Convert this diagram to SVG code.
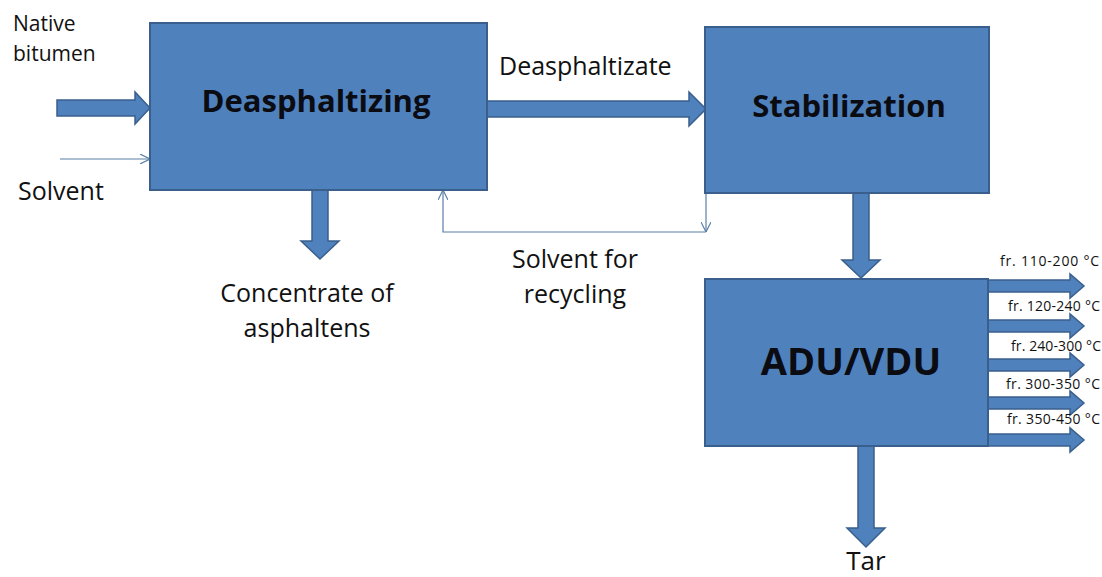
<svg xmlns="http://www.w3.org/2000/svg" width="1102" height="577" viewBox="0 0 1102 577">
  <defs>
    <style>
      .box { fill: #4F81BD; stroke: #3A5F8C; stroke-width: 2; }
      .fat { fill: #4F81BD; stroke: #3A5F8C; stroke-width: 1.5; stroke-linejoin: miter; }
      .thin { fill: none; stroke: #5B7FA6; stroke-width: 1.2; }
      .t { font-family: "Open Sans", "Liberation Sans", sans-serif; fill: #111; }
      .b { font-family: "Open Sans", "Liberation Sans", sans-serif; font-weight: bold; fill: #0b0b12; text-anchor: middle; }
      .fr { font-family: "Open Sans", "Liberation Sans", sans-serif; font-size: 14px; fill: #111; }
    </style>
    <marker id="chev" viewBox="0 0 10 10" refX="10" refY="5" markerWidth="10" markerHeight="10" markerUnits="userSpaceOnUse" orient="auto">
      <path d="M0,0 L10,5 L0,10" fill="none" stroke="#5B7FA6" stroke-width="1.2"/>
    </marker>
  </defs>

  <rect width="1102" height="577" fill="#ffffff"/>

  <g id="connectors">
    <!-- Native bitumen input -->
    <polygon class="fat" points="57,100 135,100 135,92 150,108 135,124 135,116 57,116"/>
    <!-- Solvent input -->
    <line class="thin" x1="60" y1="159" x2="150" y2="159" marker-end="url(#chev)"/>
    <!-- Deasphaltizate -->
    <polygon class="fat" points="487,101 689,101 689,92 706,109 689,126 689,117 487,117"/>
    <!-- Concentrate of asphaltens -->
    <polygon class="fat" points="312,190 328,190 328,241 339,241 320,259 301,241 312,241"/>
    <!-- Solvent for recycling -->
    <line class="thin" x1="706" y1="193" x2="706" y2="232" marker-end="url(#chev)"/>
    <polyline class="thin" points="706,232 443,232 443,190" marker-end="url(#chev)"/>
    <!-- Stabilization to ADU/VDU -->
    <polygon class="fat" points="853,193 869,193 869,260 880,260 861,278 842,260 853,260"/>
    <!-- Tar -->
    <polygon class="fat" points="858,446 874,446 874,528 885,528 866,547 847,528 858,528"/>
    <!-- Fractions -->
    <polygon class="fat" points="988,280 1070,280 1070,274 1084,286 1070,298 1070,292 988,292"/>
    <polygon class="fat" points="988,320 1070,320 1070,314 1084,326 1070,338 1070,332 988,332"/>
    <polygon class="fat" points="988,359 1070,359 1070,353 1084,365 1070,377 1070,371 988,371"/>
    <polygon class="fat" points="988,397 1070,397 1070,391 1084,403 1070,415 1070,409 988,409"/>
    <polygon class="fat" points="988,434 1070,434 1070,428 1084,440 1070,452 1070,446 988,446"/>
  </g>

  <g id="node-deasphaltizing">
    <rect class="box" x="150" y="23" width="337" height="167"/>
    <text class="b" x="316" y="112" font-size="31">Deasphaltizing</text>
  </g>

  <g id="node-stabilization">
    <rect class="box" x="705" y="27" width="284" height="166"/>
    <text class="b" x="849" y="117" font-size="31">Stabilization</text>
  </g>

  <g id="node-aduvdu">
    <rect class="box" x="705" y="279" width="283" height="167"/>
    <text class="b" x="851" y="375" font-size="38">ADU/VDU</text>
  </g>

  <g id="labels">
    <text class="t" x="13" y="31" font-size="21">Native</text>
    <text class="t" x="13" y="61" font-size="21">bitumen</text>
    <text class="t" x="18" y="200" font-size="25">Solvent</text>
    <text class="t" x="499" y="75" font-size="25">Deasphaltizate</text>
    <text class="t" x="307" y="302" font-size="25" text-anchor="middle">Concentrate of</text>
    <text class="t" x="307" y="337" font-size="25" text-anchor="middle">asphaltens</text>
    <text class="t" x="575" y="268" font-size="25" text-anchor="middle">Solvent for</text>
    <text class="t" x="575" y="303" font-size="25" text-anchor="middle">recycling</text>
    <text class="t" x="866" y="570" font-size="26" text-anchor="middle">Tar</text>
    <text class="fr" x="1000" y="266" textLength="99" lengthAdjust="spacing">fr. 110-200 °C</text>
    <text class="fr" x="1008" y="311" textLength="92" lengthAdjust="spacing">fr. 120-240 °C</text>
    <text class="fr" x="1011" y="351" textLength="90" lengthAdjust="spacing">fr. 240-300 °C</text>
    <text class="fr" x="1006" y="389" textLength="94" lengthAdjust="spacing">fr. 300-350 °C</text>
    <text class="fr" x="1007" y="424" textLength="93" lengthAdjust="spacing">fr. 350-450 °C</text>
  </g>
</svg>
